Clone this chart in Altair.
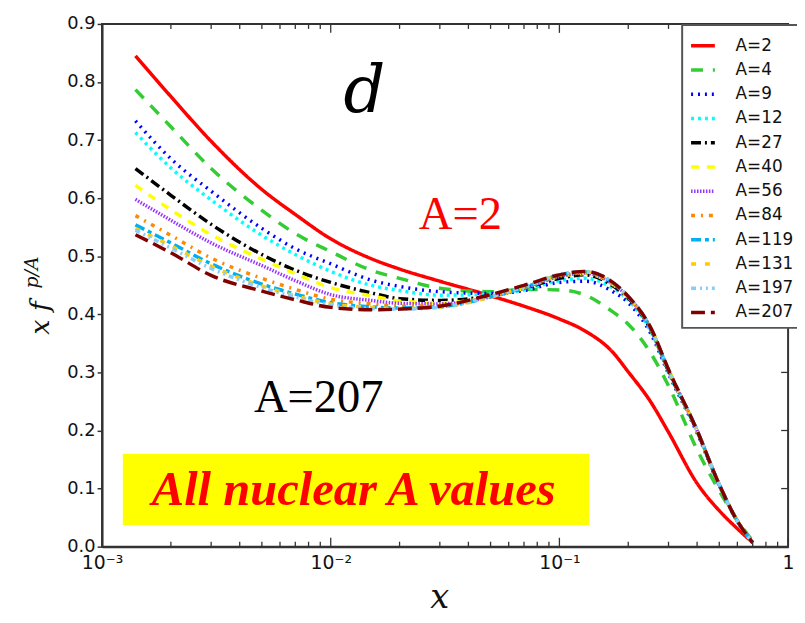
import altair as alt
import pandas as pd

# ---------------- data ----------------
x_vals = [0.0014, 0.002, 0.003, 0.005, 0.007, 0.01, 0.015, 0.02, 0.03, 0.05,
          0.07, 0.1, 0.13, 0.17, 0.2, 0.25, 0.3, 0.4, 0.5, 0.6, 0.7]

A_labels = ["A=2", "A=4", "A=9", "A=12", "A=27", "A=40", "A=56", "A=84",
            "A=119", "A=131", "A=197", "A=207"]

A2 = [0.845, 0.775, 0.698, 0.615, 0.572, 0.530, 0.496, 0.478, 0.457, 0.432, 0.414,
      0.392, 0.371, 0.336, 0.301, 0.250, 0.197, 0.109, 0.062, 0.031, 0.007]
A4 = [0.787, 0.723, 0.651, 0.579, 0.539, 0.508, 0.476, 0.462, 0.445, 0.439, 0.443,
      0.442, 0.433, 0.405, 0.383, 0.334, 0.277, 0.167, 0.096, 0.045, 0.010]
A9 = [0.733, 0.668, 0.612, 0.548, 0.513, 0.487, 0.459, 0.448, 0.439, 0.436, 0.441,
      0.455, 0.457, 0.440, 0.420, 0.368, 0.298, 0.196, 0.105, 0.044, 0.007]
A12 = [0.713, 0.652, 0.597, 0.536, 0.503, 0.474, 0.450, 0.441, 0.433, 0.435, 0.442,
       0.458, 0.462, 0.446, 0.425, 0.372, 0.300, 0.198, 0.106, 0.044, 0.007]
A27 = [0.651, 0.605, 0.555, 0.503, 0.476, 0.455, 0.437, 0.427, 0.424, 0.432, 0.445,
       0.462, 0.468, 0.450, 0.428, 0.375, 0.302, 0.199, 0.106, 0.044, 0.007]
A40 = [0.622, 0.580, 0.537, 0.495, 0.470, 0.446, 0.432, 0.423, 0.420, 0.430, 0.445,
       0.465, 0.470, 0.452, 0.429, 0.376, 0.303, 0.199, 0.106, 0.044, 0.007]
A56 = [0.598, 0.562, 0.523, 0.484, 0.458, 0.434, 0.424, 0.419, 0.418, 0.430, 0.445,
       0.465, 0.471, 0.453, 0.430, 0.376, 0.303, 0.200, 0.107, 0.044, 0.007]
A84 = [0.570, 0.536, 0.497, 0.462, 0.443, 0.426, 0.418, 0.414, 0.415, 0.430, 0.446,
       0.467, 0.472, 0.454, 0.430, 0.377, 0.304, 0.200, 0.107, 0.044, 0.007]
A119 = [0.554, 0.523, 0.487, 0.452, 0.435, 0.420, 0.413, 0.411, 0.413, 0.430, 0.446,
        0.468, 0.473, 0.455, 0.430, 0.377, 0.304, 0.200, 0.107, 0.044, 0.007]
A131 = [0.548, 0.518, 0.483, 0.449, 0.432, 0.418, 0.412, 0.410, 0.412, 0.430, 0.447,
        0.468, 0.473, 0.455, 0.430, 0.378, 0.305, 0.200, 0.107, 0.044, 0.007]
A197 = [0.545, 0.514, 0.479, 0.446, 0.430, 0.416, 0.410, 0.409, 0.412, 0.431, 0.447,
        0.469, 0.474, 0.456, 0.431, 0.378, 0.305, 0.200, 0.107, 0.044, 0.007]
A207 = [0.537, 0.506, 0.467, 0.440, 0.425, 0.412, 0.408, 0.409, 0.414, 0.434, 0.450,
        0.468, 0.474, 0.456, 0.431, 0.378, 0.305, 0.200, 0.107, 0.044, 0.007]

series = [A2, A4, A9, A12, A27, A40, A56, A84, A119, A131, A197, A207]

colors = ["#ff0000", "#33cc33", "#0000ff", "#00ffff", "#000000", "#ffff00",
          "#9933ff", "#ff8800", "#00b0f0", "#ffcc00", "#87cefa", "#800000"]
dashes = [[1, 0], [12, 10], [2, 5], [3, 4], [10, 4, 2, 4], [8, 8], [1.5, 1.5],
          [4, 6, 2, 6], [10, 4, 4, 4], [5, 9], [5, 4, 2, 4, 2, 4], [14, 6]]

y_ticks = [0.0, 0.1, 0.2, 0.3, 0.4, 0.5, 0.6, 0.7, 0.8, 0.9]
x_major = [0.001, 0.01, 0.1, 1.0]
x_tick_labels = ["10⁻³", "10⁻²", "10⁻¹", "1"]
x_minor = [k * d for d in (0.001, 0.01, 0.1) for k in range(2, 10)]

# annotations
ann_d = {"x": [0.01403], "y": [0.782], "t": ["d"]}
ann_a2 = {"x": [0.0369], "y": [0.571], "t": ["A=2"]}
ann_a207 = {"x": [0.00887], "y": [0.256], "t": ["A=207"]}
box_x = [0.001233, 0.1349]
box_y = [0.0375, 0.160]
box_text = {"x": [0.0126], "y": [0.097], "t": ["All nuclear A values"]}

# ---------------- build ----------------
rows = []
for lab, ys in zip(A_labels, series):
    for i, (xv, yv) in enumerate(zip(x_vals, ys)):
        rows.append({"A": lab, "x": xv, "y": yv, "i": i})
df = pd.DataFrame(rows)

W, H = 693, 528
xscale = alt.Scale(type="log", domain=[0.001, 1], nice=False)
yscale = alt.Scale(domain=[0, 0.9], nice=False, zero=False)

label_expr = (
    f"datum.value < 0.005 ? '{x_tick_labels[0]}' : datum.value < 0.05 ? '{x_tick_labels[1]}' : "
    f"datum.value < 0.5 ? '{x_tick_labels[2]}' : '{x_tick_labels[3]}'"
)

xaxis = alt.Axis(values=x_major, labelExpr=label_expr, ticks=False, grid=False,
                 labelFont="DejaVu Sans", labelFontSize=19, labelPadding=7,
                 labelColor="#111", domainColor="#333", domainWidth=2,
                 labelFlush=False, labelOverlap=False)
yaxis = alt.Axis(values=y_ticks, format=".1f", grid=False, tickSize=5,
                 tickColor="#333", tickWidth=1.5,
                 labelFont="DejaVu Sans", labelFontSize=18, labelPadding=2,
                 labelColor="#111", domainColor="#333", domainWidth=2,
                 labelFlush=False, labelOverlap=False)

legend = alt.Legend(title=None, orient="none", legendX=586, legendY=1,
                    symbolType="stroke", symbolSize=576, symbolStrokeWidth=3.5,
                    labelFont="DejaVu Sans", labelFontSize=17, labelColor="#111",
                    labelOffset=19, rowPadding=2.5, padding=7,
                    labelExpr="datum.label + '\u00a0\u00a0\u00a0\u00a0\u00a0'",
                    strokeColor="#555", fillColor="white", labelLimit=300)

lines = alt.Chart(df).mark_line(interpolate="monotone", strokeWidth=3.5).encode(
    x=alt.X("x:Q", scale=xscale, axis=xaxis, title=None),
    y=alt.Y("y:Q", scale=yscale, axis=yaxis, title=None),
    color=alt.Color("A:N", sort=A_labels,
                    scale=alt.Scale(domain=A_labels, range=colors), legend=legend),
    strokeDash=alt.StrokeDash("A:N", sort=A_labels,
                              scale=alt.Scale(domain=A_labels, range=dashes), legend=legend),
    order="i:Q",
)

box = alt.Chart(pd.DataFrame({"x": [box_x[0]], "x2": [box_x[1]],
                              "y": [box_y[0]], "y2": [box_y[1]]})).mark_rect(
    color="#ffff00").encode(
    x=alt.X("x:Q", scale=xscale, title=None), x2="x2:Q",
    y=alt.Y("y:Q", scale=yscale, title=None), y2="y2:Q")

box_txt = alt.Chart(pd.DataFrame(box_text)).mark_text(
    font="Liberation Serif", fontSize=49, fontStyle="italic", fontWeight="bold",
    color="#ff0000", align="center", baseline="middle").encode(
    x=alt.X("x:Q", scale=xscale, title=None), y=alt.Y("y:Q", scale=yscale, title=None),
    text="t:N")

d_txt = alt.Chart(pd.DataFrame(ann_d)).mark_text(
    font="DejaVu Serif", fontSize=66, fontStyle="italic", color="#000",
    align="center", baseline="middle").encode(
    x=alt.X("x:Q", scale=xscale, title=None), y=alt.Y("y:Q", scale=yscale, title=None),
    text="t:N")

a2_txt = alt.Chart(pd.DataFrame(ann_a2)).mark_text(
    font="Liberation Serif", fontSize=47, color="#ff0000",
    align="center", baseline="middle").encode(
    x=alt.X("x:Q", scale=xscale, title=None), y=alt.Y("y:Q", scale=yscale, title=None),
    text="t:N")

a207_txt = alt.Chart(pd.DataFrame(ann_a207)).mark_text(
    font="Liberation Serif", fontSize=47, color="#000",
    align="center", baseline="middle").encode(
    x=alt.X("x:Q", scale=xscale, title=None), y=alt.Y("y:Q", scale=yscale, title=None),
    text="t:N")

# inward ticks on bottom / top / right frame
minor_df = pd.DataFrame({"t": x_minor})
major_df = pd.DataFrame({"t": x_major})
ytick_df = pd.DataFrame({"v": y_ticks[1:-1]})

def xticks(data, y0, y1):
    return alt.Chart(data).mark_rule(color="#333", strokeWidth=1.3).encode(
        x=alt.X("t:Q", scale=xscale, title=None), y=alt.value(y0), y2=alt.value(y1))

ticks_layers = [
    xticks(minor_df, H, H - 5), xticks(major_df, H, H - 9),
    xticks(minor_df, 0, 5), xticks(major_df, 0, 9),
    alt.Chart(ytick_df).mark_rule(color="#333", strokeWidth=1.3).encode(
        y=alt.Y("v:Q", scale=yscale, title=None), x=alt.value(W), x2=alt.value(W - 7)),
]

# axis titles (math style)
ytitle1 = alt.Chart(pd.DataFrame({"t": ["x f"]})).mark_text(
    font="DejaVu Serif", fontSize=27, fontStyle="italic", angle=270,
    align="center", baseline="middle", color="#111").encode(
    x=alt.value(-62), y=alt.value(297), text="t:N")
ytitle2 = alt.Chart(pd.DataFrame({"t": ["p/A"]})).mark_text(
    font="DejaVu Serif", fontSize=19, fontStyle="italic", angle=270,
    align="center", baseline="middle", color="#111").encode(
    x=alt.value(-71), y=alt.value(251), text="t:N")
xtitle = alt.Chart(pd.DataFrame({"t": ["x"]})).mark_text(
    font="DejaVu Serif", fontSize=34, fontStyle="italic",
    align="center", baseline="middle", color="#111").encode(
    x=alt.value(341), y=alt.value(580), text="t:N")

chart = alt.layer(
    box, lines, *ticks_layers, box_txt, d_txt, a2_txt, a207_txt,
    ytitle1, ytitle2, xtitle,
).properties(
    width=W, height=H,
    padding={"left": 95, "top": 13, "right": 9, "bottom": 74},
    autosize=alt.AutoSizeParams(type="none"),
    background="white",
).configure_view(stroke="#333", strokeWidth=2).configure_legend(strokeWidth=2)

chart.save("out.html", embed_options={"renderer": "svg", "actions": False})
